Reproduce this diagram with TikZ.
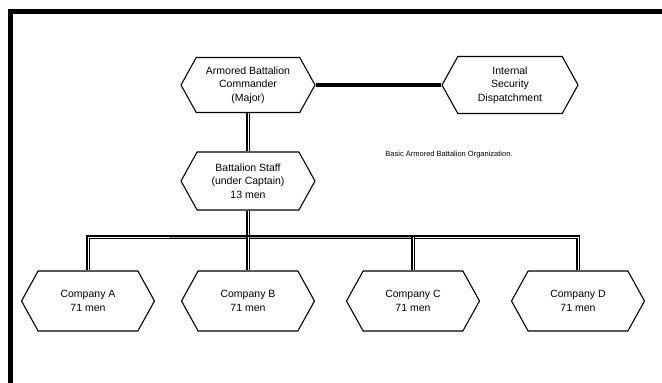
\documentclass[tikz,border=0pt]{standalone}
\usepackage{fontspec}
\setmainfont{Liberation Sans}
\usetikzlibrary{shapes.symbols}
\begin{document}
\begin{tikzpicture}[x=1pt,y=-1pt,
  hexnode/.style={signal, signal to=east and west, signal pointer angle=122,
    draw=black, line width=1.1pt, inner sep=0pt, align=center,
    font=\fontsize{10.5}{13.5}\selectfont, text=black},
  link/.style={draw=black, line width=1.8pt, double=white, double distance=0.9pt},
  solidlink/.style={draw=black, line width=4pt},
  frameline/.style={draw=black, line width=4.5pt},
  caption/.style={font=\fontsize{7.5}{9}\selectfont, text=black}]
\useasboundingbox (0,0) rectangle (662,383);
% frame (top and left edges only)
\coordinate (fBL) at (10.5,383);
\coordinate (fTL) at (10.5,11.5);
\coordinate (fTR) at (662,11.5);
\draw[frameline] (fBL) -- (fTL) -- (fTR);
% nodes
\node[hexnode, minimum width=134pt, minimum height=55pt] (cmd) at (248,85) {Armored Battalion\\Commander\\(Major)};
\node[hexnode, minimum width=136pt, minimum height=57pt] (isd) at (510,85) {Internal\\Security\\Dispatchment};
\node[hexnode, minimum width=134pt, minimum height=58pt] (staff) at (248,181) {Battalion Staff\\(under Captain)\\13 men};
\node[hexnode, minimum width=133pt, minimum height=60pt] (ca) at (88,301) {Company A\\71 men};
\node[hexnode, minimum width=133pt, minimum height=60pt] (cb) at (248,301) {Company B\\71 men};
\node[hexnode, minimum width=133pt, minimum height=60pt] (cc) at (413,301) {Company C\\71 men};
\node[hexnode, minimum width=133pt, minimum height=60pt] (cd) at (578,301) {Company D\\71 men};
\node[caption] (cap) at (449,155) {Basic Armored Battalion Organization.};
% connectors
\coordinate (bar) at (248,237);
\draw[solidlink] (cmd.east) -- (isd.west);
\draw[link] (cmd.south) -- (staff.north);
\draw[link] (staff.south) -- (bar);
\draw[link] (ca.north) |- (bar) -| (cd.north);
\draw[link] (bar) -- (cb.north);
\draw[link] (cc.north |- bar) -- (cc.north);
\end{tikzpicture}
\end{document}
